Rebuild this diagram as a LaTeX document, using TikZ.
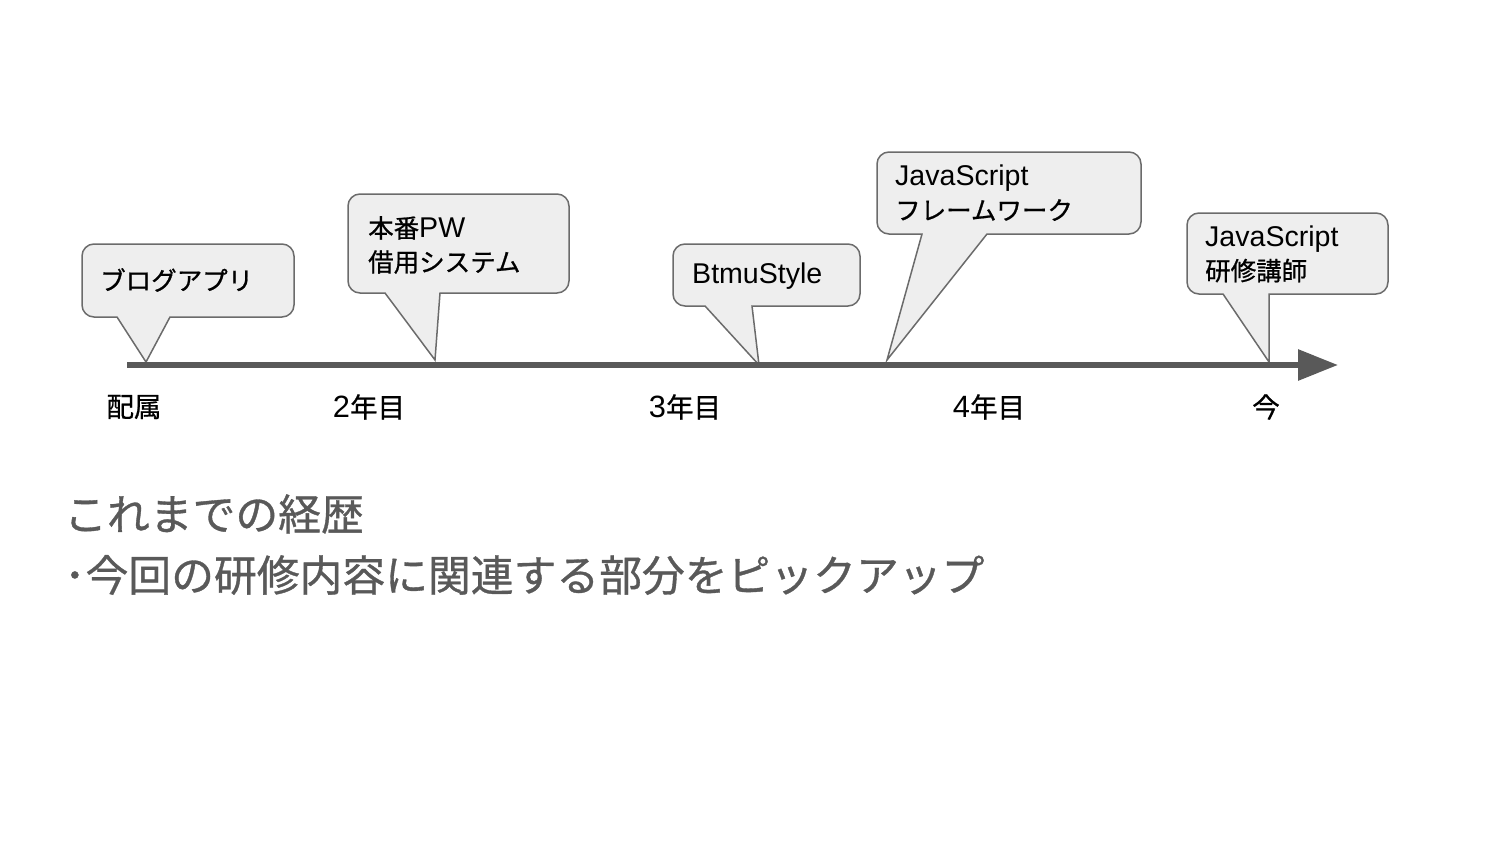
\documentclass[tikz,border=0pt]{standalone}
\usepackage{fontspec}
\setmainfont{Noto Sans CJK JP}[FakeBold=0.8]
\newfontfamily\latin{Liberation Sans}[Scale=1.12]
\usetikzlibrary{arrows.meta}
\definecolor{axisgray}{HTML}{595959}
\definecolor{bubblefill}{HTML}{EEEEEE}
\definecolor{bubbleline}{HTML}{6B6B6B}
% callout: left top right bottom, pointer base left/right, pointer tip
\newcommand\bubble[8]{%
  \filldraw[bubble] (#7,#8) -- (#5,#4) [rounded corners=12pt] -- (#1,#4) -- (#1,#2) -- (#3,#2) -- (#3,#4) [sharp corners] -- (#6,#4) -- cycle;}
\begin{document}
\begin{tikzpicture}[x=1pt,y=-1pt,
  bubble/.style={fill=bubblefill,draw=bubbleline,line width=1.5pt,line join=miter},
  btext/.style={anchor=west,align=left,inner sep=0pt,font=\fontsize{25.5}{34}\selectfont},
  tick/.style={font=\fontsize{27.5}{30}\selectfont},
  note/.style={anchor=west,inner sep=0pt,text=axisgray,font=\fontsize{42.8}{50}\selectfont}]
\useasboundingbox (0,0) rectangle (1500,843);
% callouts
\bubble{82}{244}{294}{317}{117}{170}{146}{362}
\bubble{348}{194}{569}{293}{385}{440}{435}{360}
\bubble{673}{244}{860}{306}{705}{752}{759}{365}
\bubble{877}{152}{1141}{234}{922}{987}{887}{360}
\bubble{1187}{213}{1388}{294}{1223}{1269}{1269}{362}
\node[btext] (blog) at (100,280) {ブログアプリ};
\node[btext] (pw) at (368,245) {本番{\latin PW}\\借用システム};
\node[btext] (btmu) at (692,276) {\latin BtmuStyle};
\node[btext] (fw) at (895,193) {{\latin JavaScript}\\フレームワーク};
\node[btext] (lect) at (1205,254) {{\latin JavaScript}\\研修講師};
% time axis
\coordinate (t0) at (127,365);
\coordinate (tend) at (1338,365);
\draw[axisgray,line width=6pt,-{Triangle[length=40pt,width=30pt]}] (t0) -- (tend);
\node[tick] (haizoku) at (134,407) {配属};
\node[tick] (y2) at (369,407) {{\latin 2}年目};
\node[tick] (y3) at (685,407) {{\latin 3}年目};
\node[tick] (y4) at (989,407) {{\latin 4}年目};
\node[tick] (now) at (1266,407) {今};
% notes
\node[note] (title) at (64,514) {これまでの経歴};
\node[note] (pickup) at (64,575) {･今回の研修内容に関連する部分をピックアップ};
\end{tikzpicture}
\end{document}
